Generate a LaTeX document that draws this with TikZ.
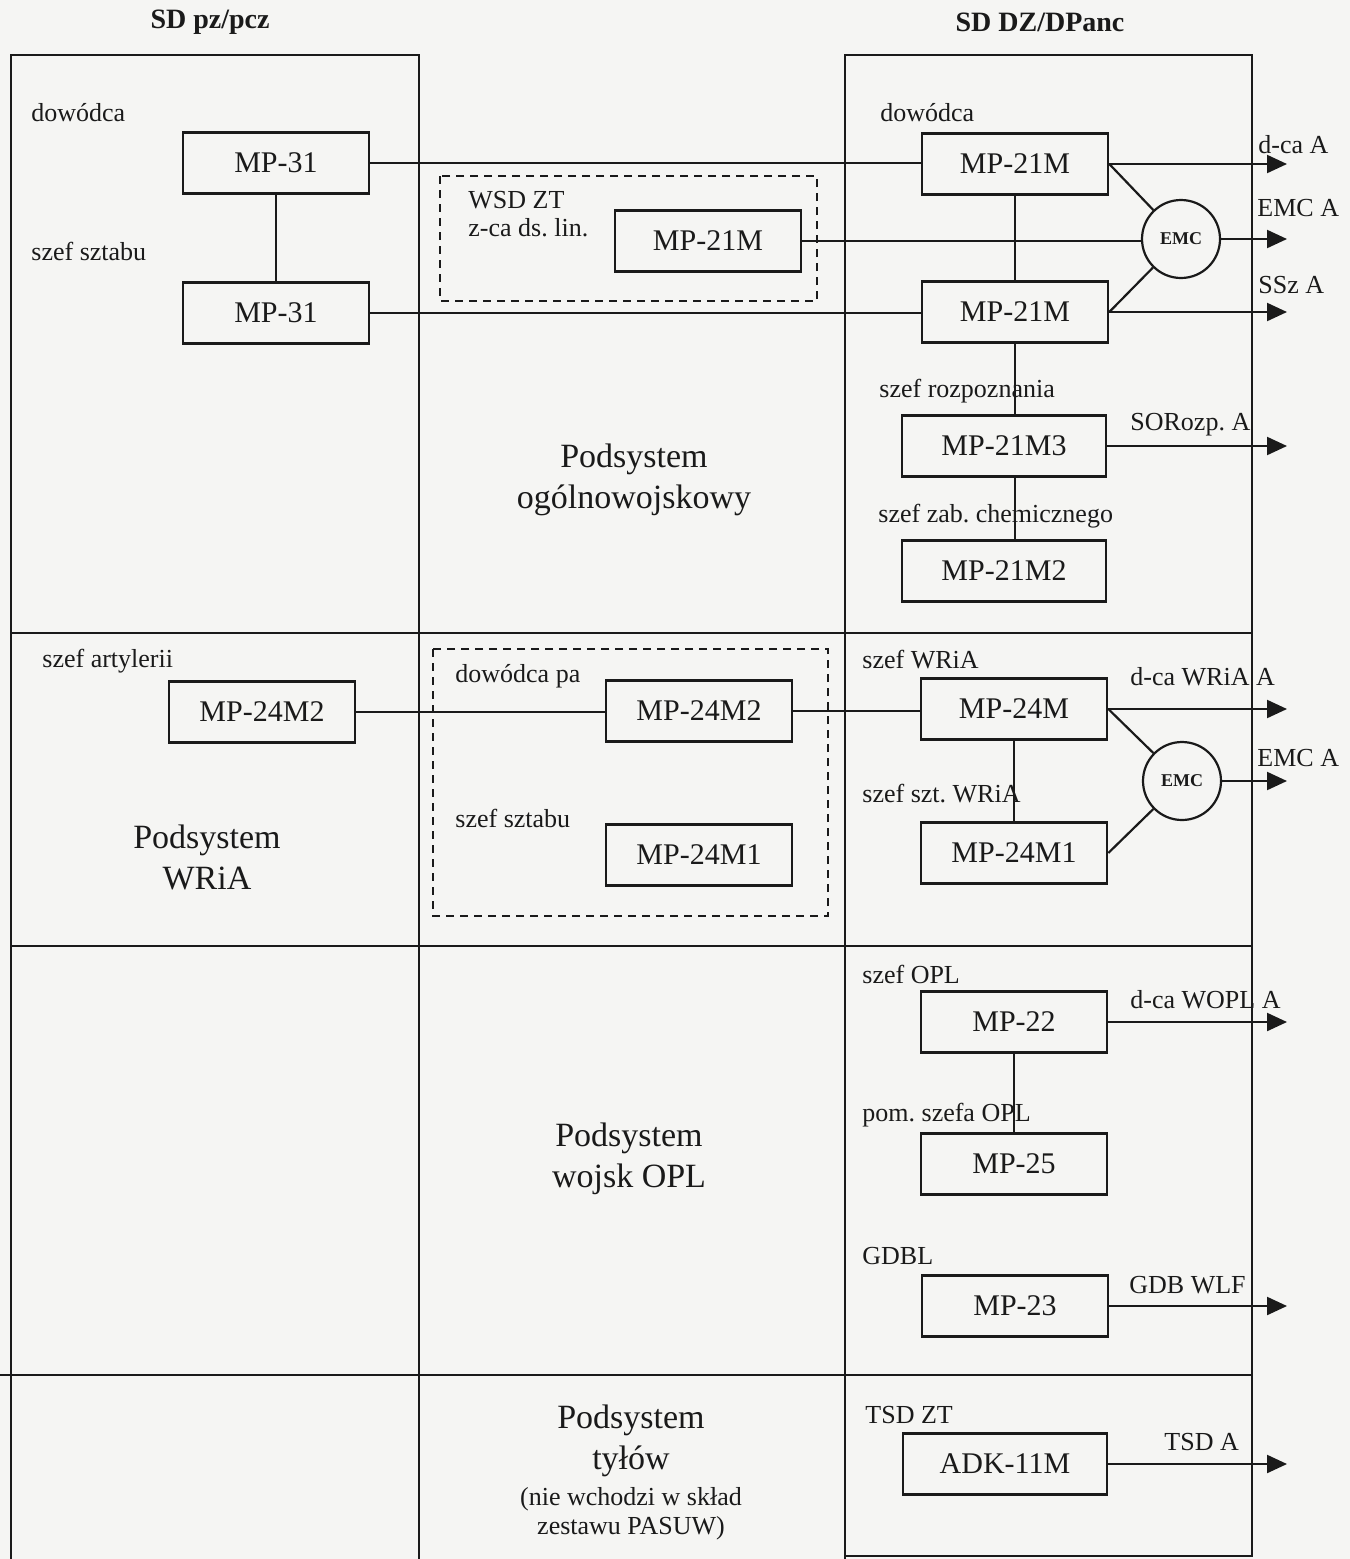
\documentclass[tikz,border=0pt]{standalone}
\usepackage{fontspec}
\setmainfont{Liberation Serif}
\frenchspacing
\usetikzlibrary{arrows.meta,positioning}
\definecolor{ink}{HTML}{1A1A1A}
\definecolor{paper}{HTML}{F5F5F3}
\tikzset{
  frame/.style={draw=ink, line width=1.3pt},
  vehicle/.style={draw=ink, line width=1.3pt, minimum width=93pt, minimum height=30.5pt,
    inner sep=0pt, font=\fontsize{15}{17}\selectfont, text=ink},
  vehiclewide/.style={vehicle, minimum width=102pt},
  group/.style={draw=ink, dash pattern=on 4pt off 3pt, line width=1.1pt},
  role/.style={anchor=west, inner sep=0pt, font=\fontsize{13}{15}\selectfont, text=ink},
  title/.style={font=\bfseries\fontsize{14}{16}\selectfont, text=ink},
  subsys/.style={align=center, inner sep=0pt, font=\fontsize{17}{20.5}\selectfont, text=ink},
  note/.style={align=center, inner sep=0pt, font=\fontsize{13}{14.5}\selectfont, text=ink},
  emc/.style={circle, draw=ink, line width=1.1pt, minimum size=39pt, inner sep=0pt,
    font=\bfseries\fontsize{9}{10}\selectfont, text=ink},
  link/.style={draw=ink, line width=1.1pt},
  feed/.style={-{Triangle[length=10pt,width=9pt]}, draw=ink, line width=1.1pt},
}

\begin{document}
\begin{tikzpicture}[x=0.5pt, y=-0.5pt]
\fill[paper] (0,0) rectangle (1350,1559);
\useasboundingbox (0,0) rectangle (1350,1559);
\coordinate (outx) at (1287,0);

% columns and rows
\draw[frame] (11,1559) -- (11,55) -- (419,55) -- (419,1559);
\draw[frame] (845,1559) -- (845,55) -- (1252,55) -- (1252,1556) -- (845,1556);
\draw[frame] (11,633) -- (1252,633);
\draw[frame] (11,946) -- (1252,946);
\draw[frame] (0,1375) -- (1252,1375);

\node[title] (sdp) at (210,22) {SD pz/pcz};
\node[title] (sdd) at (1040,22) {SD DZ/DPanc};

% Podsystem ogolnowojskowy
\draw[group] (440,176) rectangle (817,301);
\node[role] (l1) at (31,113) {dowódca};
\node[vehicle] (ow1) at (276,163) {MP-31};
\node[role] (l2) at (31,251) {szef sztabu};
\node[vehicle] (ow2) at (276,313) {MP-31};
\node[role] (l3) at (468,200) {WSD ZT};
\node[role] (l4) at (468,228) {z-ca ds. lin.};
\node[vehicle] (zt) at (708,241) {MP-21M};
\node[role] (l5) at (880,113) {dowódca};
\node[vehicle] (dz1) at (1015,164) {MP-21M};
\node[vehicle] (dz2) at (1015,312) {MP-21M};
\node[emc] (emc1) at (1181,239) {EMC};
\node[role] (l6) at (879,391) {szef rozpoznania};
\node[vehiclewide] (rz) at (1004,446) {MP-21M3};
\node[role] (l7) at (878,516) {szef zab. chemicznego};
\node[vehiclewide] (ch) at (1004,571) {MP-21M2};
\node[subsys] (sow) at (634,480) {Podsystem\\ogólnowojskowy};
\node[role] (a1) at (1258,145) {d-ca A};
\node[role] (a2) at (1257,208) {EMC A};
\node[role] (a3) at (1258,285) {SSz A};
\node[role] (a4) at (1130,425) {SORozp. A};
\draw[link] (ow1.south) -- (ow2.north);
\draw[link] (ow1.east) -- (ow1.east -| dz1.west);
\draw[link] (ow2.east) -- (ow2.east -| dz2.west);
\draw[link] (zt.east) -- (zt.east -| emc1.west);
\draw[link] (dz1.south) -- (dz2.north);
\draw[link] (dz2.south) -- (dz2.south |- rz.north);
\draw[link] (dz2.south |- rz.south) -- (dz2.south |- ch.north);
\draw[link] (dz1.east) -- (emc1);
\draw[link] (dz2.east) -- (emc1);
\draw[feed] (dz1.east) -- (dz1.east -| outx);
\draw[feed] (emc1.east) -- (emc1.east -| outx);
\draw[feed] (dz2.east) -- (dz2.east -| outx);
\draw[feed] (rz.east) -- (rz.east -| outx);

% Podsystem WRiA
\draw[group] (433,649) rectangle (828,916);
\node[role] (l8) at (42,661) {szef artylerii};
\node[vehicle] (art) at (262,712) {MP-24M2};
\node[subsys] (swr) at (207,857) {Podsystem\\WRiA};
\node[role] (l9) at (455,676) {dowódca pa};
\node[vehicle] (pa) at (699,711) {MP-24M2};
\node[role] (l10) at (455,818) {szef sztabu};
\node[vehicle] (ps) at (699,855) {MP-24M1};
\node[role] (l11) at (862,660) {szef WRiA};
\node[vehicle] (wr1) at (1014,709) {MP-24M};
\node[role] (l12) at (862,794) {szef szt. WRiA};
\node[vehicle] (wr2) at (1014,853) {MP-24M1};
\node[emc] (emc2) at (1182,781) {EMC};
\node[role] (a5) at (1130,677) {d-ca WRiA A};
\node[role] (a6) at (1257,758) {EMC A};
\draw[link] (art.east) -- (art.east -| pa.west);
\draw[link] (pa.east) -- (pa.east -| wr1.west);
\draw[link] (wr1.south) -- (wr2.north);
\draw[link] (wr1.east) -- (emc2);
\draw[link] (wr2.east) -- (emc2);
\draw[feed] (wr1.east) -- (wr1.east -| outx);
\draw[feed] (emc2.east) -- (emc2.east -| outx);

% Podsystem wojsk OPL
\node[subsys] (sopl) at (629,1159) {Podsystem\\wojsk OPL};
\node[role] (l13) at (862,974) {szef OPL};
\node[vehicle] (op1) at (1014,1022) {MP-22};
\node[role] (l14) at (862,1115) {pom. szefa OPL};
\node[vehicle] (op2) at (1014,1164) {MP-25};
\node[role] (l15) at (862,1256) {GDBL};
\node[vehicle] (gd) at (1015,1306) {MP-23};
\node[role] (a7) at (1130,1000) {d-ca WOPL A};
\node[role] (a8) at (1129,1285) {GDB WLF};
\draw[link] (op1.south) -- (op2.north);
\draw[feed] (op1.east) -- (op1.east -| outx);
\draw[feed] (gd.east) -- (gd.east -| outx);

% Podsystem tylow
\node[subsys] (styl) at (631,1441) {Podsystem\\tyłów};
\node[note, below=5pt of styl] (snote) {(nie wchodzi w skład\\zestawu PASUW)};
\node[role] (l16) at (865,1415) {TSD ZT};
\node[vehiclewide] (tsd) at (1005,1464) {ADK-11M};
\node[role] (a9) at (1164,1442) {TSD A};
\draw[feed] (tsd.east) -- (tsd.east -| outx);

\end{tikzpicture}
\end{document}
